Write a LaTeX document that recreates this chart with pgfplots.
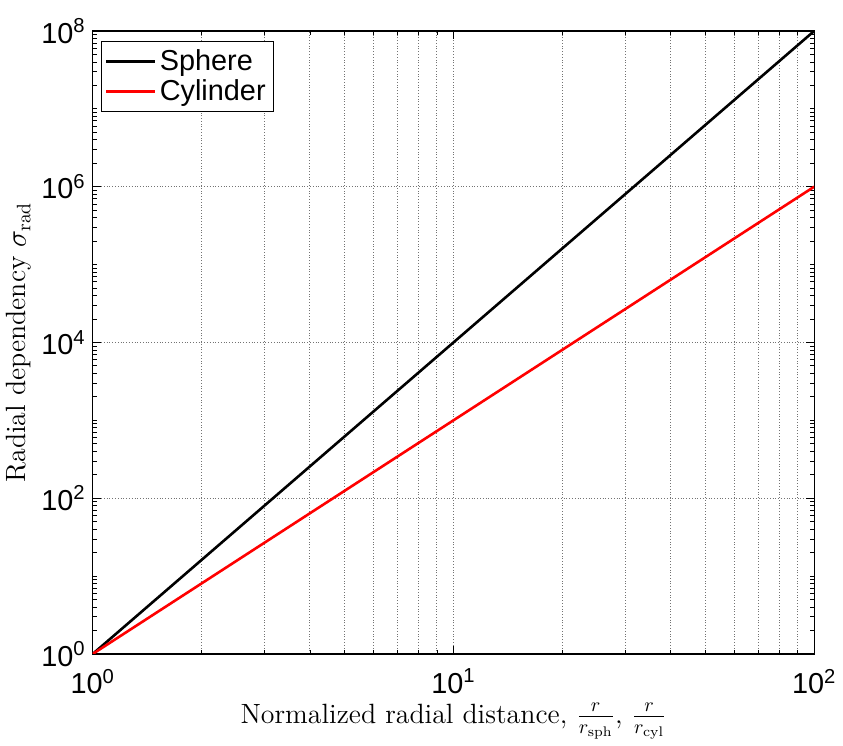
\documentclass[border={0pt 0pt 0pt 6pt}]{standalone}
\usepackage{fontspec}
\setsansfont{Liberation Sans}
\usepackage{pgfplots}
\pgfplotsset{compat=1.18}
\newfontfamily\helv{Liberation Sans}
\begin{document}
\begin{tikzpicture}
\begin{axis}[
  xmode=log, ymode=log,
  scale only axis,
  width=362.5pt, height=313pt,
  xmin=1, xmax=100, ymin=1, ymax=1e8,
  xtick={1,10,100},
  ytick={1,1e2,1e4,1e6,1e8},
  minor xtick={2,3,4,5,6,7,8,9,20,30,40,50,60,70,80,90},
  minor ytick={2,3,4,5,6,7,8,9,10,20,30,40,50,60,70,80,90,
    200,300,400,500,600,700,800,900,1000,2000,3000,4000,5000,6000,7000,8000,9000,
    2e4,3e4,4e4,5e4,6e4,7e4,8e4,9e4,1e5,2e5,3e5,4e5,5e5,6e5,7e5,8e5,9e5,
    2e6,3e6,4e6,5e6,6e6,7e6,8e6,9e6,1e7,2e7,3e7,4e7,5e7,6e7,7e7,8e7,9e7},
  xmajorgrids, ymajorgrids, xminorgrids,
  major grid style={densely dotted, black!55, line width=0.5pt},
  minor x grid style={densely dotted, black!55, line width=0.5pt},
  tick align=inside,
  major tick length=4pt, minor tick length=2pt,
  tick style={black, line width=0.4pt},
  axis line style={line width=0.6pt},
  ticklabel style={font=\helv\fontsize{14.5}{16}\selectfont},
  xticklabel style={yshift=-4pt},
  /pgf/number format/assume math mode=true,
  log number format basis/.code 2 args={\helv 10\textsuperscript{\pgfmathprintnumber{#2}}},
  xlabel={Normalized radial distance, $\frac{r}{r_{\mathrm{sph}}}$, $\frac{r}{r_{\mathrm{cyl}}}$},
  ylabel={Radial dependency $\sigma_{\mathrm{rad}}$},
  label style={font=\fontsize{14}{16}\selectfont},
  xlabel style={yshift=2pt},
  ylabel style={yshift=-2pt},
  legend style={at={(rel axis cs:0.011,0.984)}, anchor=north west,
    font=\sffamily\fontsize{14.5}{16}\selectfont, draw=black, line width=0.5pt,
    inner sep=2pt, row sep=-1pt},
  legend cell align=left,
  legend image code/.code={\draw[#1] (0cm,0cm) -- (0.85cm,0cm);},
]
\addplot[black, line width=1.3pt] coordinates {(1,1) (100,1e8)};
\addlegendentry{Sphere}
\addplot[red, line width=1.3pt] coordinates {(1,1) (100,1e6)};
\addlegendentry{Cylinder}
\end{axis}
\end{tikzpicture}
\end{document}
